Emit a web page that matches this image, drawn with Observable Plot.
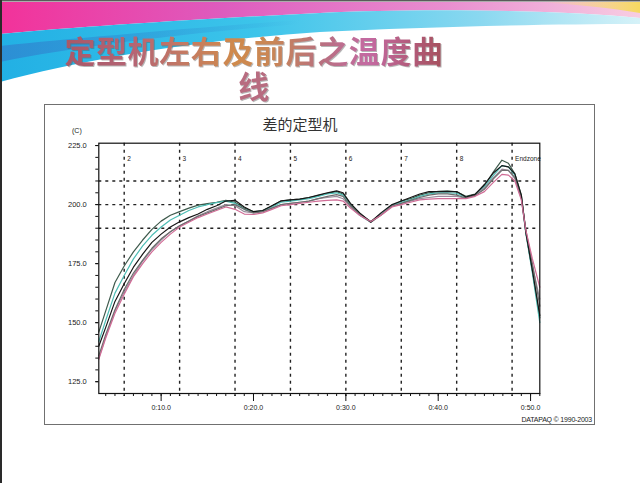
<!DOCTYPE html>
<html><head><meta charset="utf-8">
<script src="https://cdn.jsdelivr.net/npm/d3@7"></script>
<script src="https://cdn.jsdelivr.net/npm/@observablehq/plot@0.6"></script>
<style>
html,body{margin:0;padding:0;background:#fff;}
body{width:640px;height:483px;position:relative;overflow:hidden;font-family:"Liberation Sans",Arial,sans-serif;}
#deco{position:absolute;left:0;top:0;}
.st{position:absolute;left:54px;width:400px;height:35px;line-height:35px;text-align:center;font-family:"Liberation Sans","Noto Sans CJK SC";font-weight:700;font-size:31px;letter-spacing:0.6px;filter:drop-shadow(1px 1px 0 rgba(90,90,90,0.45));overflow:visible;}
#st1{top:35px;}
#st2{top:70px;}
#st1 span{background:linear-gradient(90deg,#a85868 0%,#b56474 18%,#c47a62 32%,#cf8a4c 45%,#c98656 55%,#b87080 68%,#c46aa2 80%,#a5505c 100%);-webkit-background-clip:text;background-clip:text;-webkit-text-fill-color:transparent;color:transparent;}
#st2 span{color:#b86c80;}
#box{position:absolute;left:44px;top:104px;width:551px;height:321px;border:1.5px solid #707070;box-sizing:border-box;}
#chart{position:absolute;left:45px;top:105px;}
#ctitle{position:absolute;left:200px;width:200px;top:113px;text-align:center;font-family:"Noto Sans CJK SC";font-size:15px;color:#333;}
#unit{position:absolute;left:72px;top:127px;font-size:7px;color:#222;}
#dp{position:absolute;right:48px;top:416px;font-size:7px;color:#222;letter-spacing:-0.2px;}
</style></head>
<body>
<svg id="deco" width="640" height="110">
  <defs>
    <linearGradient id="gPink" x1="0" x2="1" y1="0" y2="0">
      <stop offset="0" stop-color="#f2329a"/><stop offset="0.35" stop-color="#de5cbe"/>
      <stop offset="0.7" stop-color="#e98fd0"/><stop offset="1" stop-color="#f7cde2"/>
    </linearGradient>
    <linearGradient id="gCyan" x1="0" x2="1" y1="0" y2="0">
      <stop offset="0" stop-color="#22b0e4"/><stop offset="0.4" stop-color="#3cc4ea"/>
      <stop offset="0.75" stop-color="#8ad8f0"/><stop offset="1" stop-color="#d6f2f8"/>
    </linearGradient>
    <linearGradient id="gBlue" x1="0" x2="1" y1="0" y2="0">
      <stop offset="0" stop-color="#2f86d0" stop-opacity="0.8"/><stop offset="1" stop-color="#2f86d0" stop-opacity="0"/>
    </linearGradient>
    <linearGradient id="gYel" x1="0" x2="1" y1="0" y2="0">
      <stop offset="0" stop-color="#f8e27a" stop-opacity="0"/><stop offset="1" stop-color="#f6d860"/>
    </linearGradient>
  </defs>
  <path d="M0,2 H640 V18 C560,10 420,8 320,13 C200,19 90,26 0,34 Z" fill="url(#gPink)"/>
  <path d="M540,2 H640 V13 C610,8 580,5 540,2 Z" fill="url(#gYel)"/>
  <path d="M0,34 C90,26 200,19 320,13 C420,8 560,10 640,18 L640,24 C540,24 420,27 320,32 C200,40 90,58 0,82 Z" fill="url(#gCyan)"/>
  <path d="M0,46 C80,38 180,29 300,20 L300,24 C180,34 80,46 0,62 Z" fill="url(#gBlue)"/>
  <rect x="0" y="0" width="640" height="1.5" fill="#5a5a5a"/>
</svg>
<div style="position:absolute;left:0;top:0;width:2px;height:483px;background:#2a2a2a"></div>
<div class="st" id="st1"><span>定型机左右及前后之温度曲</span></div>
<div class="st" id="st2"><span>线</span></div>
<div id="box"></div>
<div id="chart"></div>
<div id="ctitle">差的定型机</div>
<div id="unit">(C)</div>
<div id="dp">DATAPAQ © 1990-2003</div>
<script>
// time axis (minutes)
const xs = [3.25, 4, 5, 6, 7, 8, 9, 10,
  11, 12, 13, 14, 15, 16, 17, 18, 19, 20, 21, 22, 23, 24, 25, 26, 27, 28, 29,
  29.7, 30.5, 31.5, 32.7, 33.8,
  35, 36, 37, 38, 39, 40, 41, 42, 43, 44, 45, 46,
  46.9, 47.6, 48.3, 49, 49.5, 50.2, 51];
const probeA = [146,155,167,174,180,185,189.5,193,
  195.5,197,198.5,199.8,200.4,201,201.8,201,198.5,197,197.5,199.5,201.5,202,202.3,203,203.8,204.8,205.5,
  204.5,200,196,192.8,196,
  199.5,201.5,202.5,204,205,205.6,205.8,205.4,203.5,204.5,208,214,
  218.8,217.5,213,204,188,172,152];
const probeB = [142,151,162.5,170,177,182.5,187,190.5,
  193.5,195.5,197.5,199,200,200.8,201.5,200.5,198,196.8,197.3,199,201,201.5,202,202.5,203.5,204.5,205,
  204,199.5,195.5,192.5,196,
  199.8,201,202,203.5,204.5,205,205,204.8,203,204,207.5,212.5,
  216.5,216,212.5,203,187.5,171,150];
const probeC = [140,148,159,166.5,173.5,179,184,187.5,
  190.5,192.7,194.5,196,198,199.5,201.5,201.8,199,197,197.5,199.5,201.6,202,202.3,203,204,205,205.8,
  205,200.5,196.5,192.6,196.5,
  200,201.5,203,204.5,205.5,205.5,205.5,205.5,203.2,204.3,208.5,213.5,
  216.5,216,213,204,188,172,153];
const probeD = [136,145,155.5,164,171,176.5,181.5,185.5,
  188.5,191,193,195,196.5,198,199.5,200,198,196.5,197,198.5,200,200.5,201,201.5,202.5,203.5,204.2,
  203.5,199.5,196,192.5,195.5,
  199.3,200.5,201.8,203,204,204.5,204.5,204,202.8,203.8,206.5,211,
  214.5,214.5,211.5,203,189,175,157];
const probeE = [134.5,143.5,154,162,169.5,175,180,184,
  187.5,190.5,192.5,194.5,196,197.5,199,198,196,195.8,196.5,198,199.5,200,200.5,201,201.5,201.8,202,
  201.5,198.5,195.5,192.8,195.5,
  199,200,201,202,202.3,202.5,202.5,202.5,202.5,203.5,205.5,209.5,
  212.8,212.5,210,202,189,177,165];
const probeF = [135,144,155,163,170,176,181,185,
  188.5,191,193,195.3,197,198.5,200,199.5,197,196.5,197,198.5,200,200.5,201,201.5,202.5,203,203.5,
  202.5,199,195.5,192.5,195.8,
  199.5,200.5,201.5,202.5,203,203.5,203.5,203.5,202.7,204,207,211.5,
  215,214.5,211,202.5,188,174,160];
const probeNames = ["A","B","F","D","C","E"];
const probeValues = {A: probeA, B: probeB, C: probeC, D: probeD, E: probeE, F: probeF};
const probeColors = ["#3e5a4c","#4dbdb4","#9a8c9c","#6e6e6e","#161616","#d06c96"];
const zoneX = [6, 12, 18, 24, 30, 36, 42, 48];
const zoneLabels = ["2","3","4","5","6","7","8","Endzone"];
const refY = [190, 200, 210];
const yTicks = [125, 150, 175, 200, 225];
const xTicks = [10, 20, 30, 40, 50];
const xMinor = d3.range(4, 52, 1);
const yMinor = d3.range(125, 226, 5);

const rows = probeNames.flatMap(s => xs.map((x, i) => ({s, x, v: probeValues[s][i]})));
const zones = zoneX.map((x, i) => ({x, label: zoneLabels[i]}));

const chart = Plot.plot({
  width: 549, height: 319,
  marginLeft: 53.3, marginRight: 54.7, marginTop: 37.7, marginBottom: 31,
  x: {domain: [3.25, 51]},
  y: {domain: [120, 226]},
  color: {domain: probeNames, range: probeColors},
  style: {fontFamily: "Liberation Sans, Arial, sans-serif", fontSize: "8px", color: "#222", background: "transparent", overflow: "visible"},
  marks: [
    Plot.ruleY(refY, {stroke: "#222", strokeWidth: 1.4, strokeDasharray: "3,4"}),
    Plot.ruleX(zones, {x: "x", stroke: "#222", strokeWidth: 1.4, strokeDasharray: "3,4", insetBottom: -3}),
    Plot.text(zones, {x: "x", text: "label", frameAnchor: "top", dy: 13, dx: 3, textAnchor: "start", fontSize: 6.5}),
    Plot.lineY(rows, {x: "x", y: "v", z: "s", stroke: "s", strokeWidth: 1.2}),
    Plot.axisX({ticks: xMinor, tickSize: 3, tickFormat: () => "", label: null, stroke: "#111"}),
    Plot.axisX({ticks: xTicks, tickSize: 8, tickPadding: 4, tickFormat: d => `0:${d}.0`, label: null, fontSize: 7, stroke: "#111"}),
    Plot.axisY({ticks: yMinor, tickSize: 3, tickFormat: () => "", label: null, stroke: "#111"}),
    Plot.axisY({ticks: yTicks, tickSize: 3, tickPadding: 9, tickFormat: d => d.toFixed(1), label: null, fontSize: 7.5, stroke: "#111"}),
    Plot.frame({stroke: "#111", strokeWidth: 1.2})
  ]
});
document.getElementById("chart").appendChild(chart);
</script>
</body></html>
